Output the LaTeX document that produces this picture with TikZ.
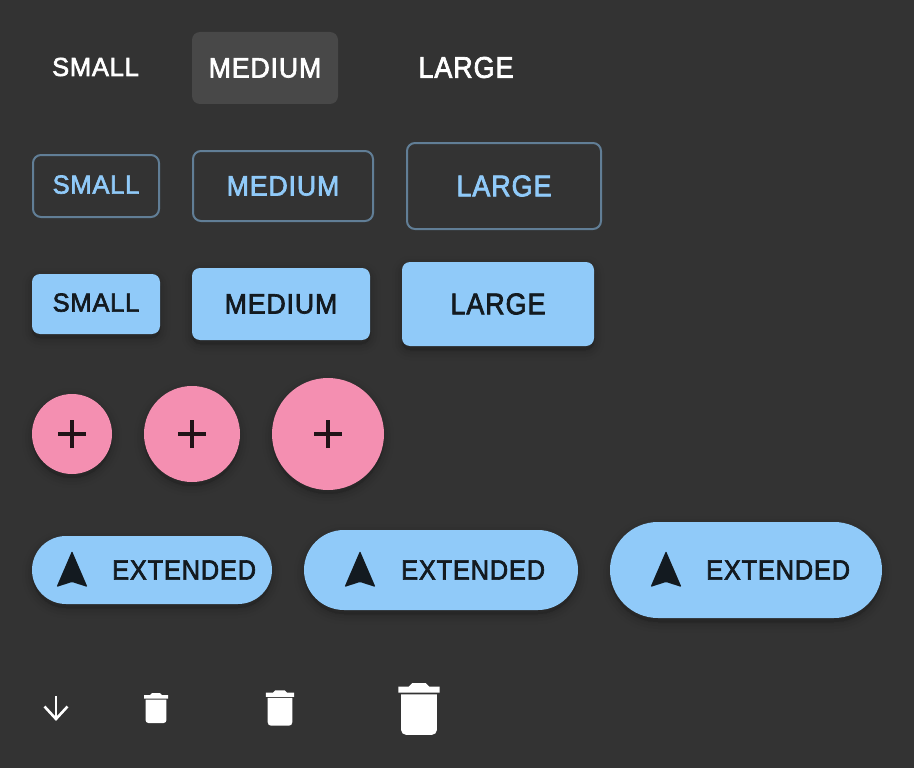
\documentclass[tikz,border=0pt]{standalone}
\usepackage{fontspec}
\setmainfont{Liberation Sans}
\newfontfamily\smallfont{Liberation Sans}[FakeBold=2.4, LetterSpace=3, FakeStretch=0.98]
\newfontfamily\mediumfont{Liberation Sans}[FakeBold=2.4, LetterSpace=3, FakeStretch=0.955]
\newfontfamily\largefont{Liberation Sans}[FakeBold=2.4, LetterSpace=3, FakeStretch=0.90]
\newfontfamily\extendfont{Liberation Sans}[FakeBold=2.4, LetterSpace=3, FakeStretch=0.905]
\definecolor{pagebg}{HTML}{333333}
\definecolor{hoverbg}{HTML}{484848}
\definecolor{bluefill}{HTML}{90CAF9}
\definecolor{blueline}{HTML}{617E96}
\definecolor{bluetext}{HTML}{131A20}
\definecolor{pinkfill}{HTML}{F48FB1}
\definecolor{pinktext}{HTML}{201317}
\tikzset{
	softshadow/.style = {
		preaction = {draw = black, fill = black, draw opacity = 0.02, fill opacity = 0.02, line width = 20pt, transform canvas = {yshift = -4pt}},
		preaction = {draw = black, fill = black, draw opacity = 0.025, fill opacity = 0.02, line width = 14pt, transform canvas = {yshift = -4pt}},
		preaction = {draw = black, fill = black, draw opacity = 0.03, fill opacity = 0.03, line width = 8pt, transform canvas = {yshift = -4pt}},
		preaction = {draw = black, fill = black, draw opacity = 0.04, fill opacity = 0.03, line width = 3pt, transform canvas = {yshift = -4pt}},
	},
	btn/.style = {rectangle, rounded corners = 8pt, inner sep = 0pt, text = white},
	smalltext/.style = {font = \smallfont\fontsize{26}{26}\selectfont},
	mediumtext/.style = {font = \mediumfont\fontsize{28}{28}\selectfont},
	largetext/.style = {font = \largefont\fontsize{30}{30}\selectfont},
	linebtn/.style = {btn, draw = blueline, line width = 2pt, text = bluefill},
	solidbtn/.style = {btn, fill = bluefill, text = bluetext, softshadow},
	fab/.style = {circle, fill = pinkfill, inner sep = 0pt, softshadow},
	pill/.style = {rectangle, fill = bluefill, inner sep = 0pt, softshadow},
	pilltext/.style = {anchor = west, inner sep = 0pt, text = bluetext, font = \extendfont\fontsize{28}{28}\selectfont},
	plusbar/.style = {draw = pinktext, line width = 4.4pt},
	navicon/.style = {fill = bluetext, rounded corners = 1pt},
}
% trash can, #1 = centre, #2 = scale
\newcommand{\trashcan}[2]{
	\begin{scope}[shift = {#1}, scale = #2]
		\fill [white] (-12,-13) -- (-6,-13) -- (-4,-15) -- (4,-15) -- (6,-13) -- (12,-13) -- (12,-9.5) -- (-12,-9.5) -- cycle;
		\fill [white] (-10.4,-8.5) -- (10.4,-8.5) [rounded corners = #2*2.8pt] -- (10.4,15) -- (-10.4,15) [sharp corners] -- (-10.4,-8.5) -- cycle;
	\end{scope}
}
% navigation arrow, #1 = centre
\newcommand{\navarrow}[1]{
	\begin{scope}[shift = {#1}]
		\fill [navicon] (0,-19) -- (15.5,17) -- (0,12) -- (-15.5,17) -- cycle;
	\end{scope}
}
\begin{document}
\begin{tikzpicture}[x = 1pt, y = -1pt]
	\useasboundingbox (0,0) rectangle (914,768);
	\fill [pagebg] (0,0) rectangle (914,768);

	% text buttons
	\node (textSmall) [btn, smalltext] at (95.5,67) {SMALL};
	\node (textMedium) [btn, mediumtext, fill = hoverbg, minimum width = 146pt, minimum height = 72pt] at (265,68) {MEDIUM};
	\node (textLarge) [btn, largetext] at (466,67.5) {LARGE};

	% outlined buttons
	\node (lineSmall) [linebtn, smalltext, minimum width = 126pt, minimum height = 62pt, text depth = 3pt] at (96,186) {SMALL};
	\node (lineMedium) [linebtn, mediumtext, minimum width = 180pt, minimum height = 70pt] at (283,186) {MEDIUM};
	\node (lineLarge) [linebtn, largetext, minimum width = 194pt, minimum height = 86pt] at (504,186) {LARGE};

	% contained buttons
	\node (solidSmall) [solidbtn, smalltext, minimum width = 128pt, minimum height = 60pt, text depth = 3pt] at (96,304) {SMALL};
	\node (solidMedium) [solidbtn, mediumtext, minimum width = 178pt, minimum height = 72pt] at (281,304) {MEDIUM};
	\node (solidLarge) [solidbtn, largetext, minimum width = 192pt, minimum height = 84pt] at (498,304) {LARGE};

	% round buttons
	\node (fabSmall) [fab, minimum size = 80pt] at (72,434) {};
	\node (fabMedium) [fab, minimum size = 96pt] at (192,434) {};
	\node (fabLarge) [fab, minimum size = 112pt] at (328,434) {};
	\foreach \i in {fabSmall, fabMedium, fabLarge} {
		\draw [plusbar] ([xshift = -14pt]\i.center) -- ([xshift = 14pt]\i.center);
		\draw [plusbar] ([yshift = -14pt]\i.center) -- ([yshift = 14pt]\i.center);
	}

	% extended buttons
	\node (pillSmall) [pill, rounded corners = 34pt, minimum width = 240pt, minimum height = 68pt] at (152,570) {};
	\node (pillMedium) [pill, rounded corners = 40pt, minimum width = 274pt, minimum height = 80pt] at (441,570) {};
	\node (pillLarge) [pill, rounded corners = 48pt, minimum width = 272pt, minimum height = 96pt] at (746,570) {};
	\navarrow{(72,570)}
	\navarrow{(360,570)}
	\navarrow{(666,570)}
	\node (pillTextSmall) [pilltext] at (112,570) {EXTENDED};
	\node (pillTextMedium) [pilltext] at (401,570) {EXTENDED};
	\node (pillTextLarge) [pilltext] at (706,570) {EXTENDED};

	% icon buttons
	\coordinate (arrowTop) at (56,696);
	\coordinate (arrowTip) at (56,719);
	\draw [white, line width = 2.6pt] (arrowTop) -- (arrowTip);
	\draw [white, line width = 2.6pt] (44.5,706.5) -- (arrowTip) -- (67.5,706.5);
	\trashcan{(156,708)}{1}
	\trashcan{(280,708)}{1.18}
	\trashcan{(419,709)}{1.72}
\end{tikzpicture}
\end{document}
